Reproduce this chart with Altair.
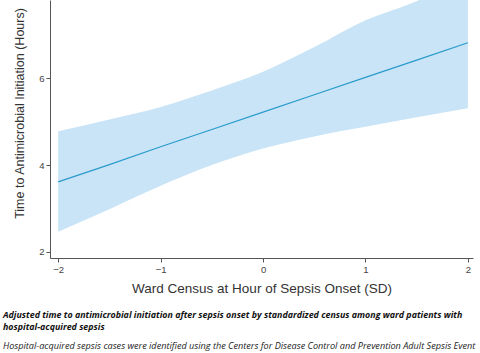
import altair as alt
import pandas as pd

# Ward census (SD) and predicted time to antimicrobial initiation (hours)
census = [-2.0, -1.5, -1.0, -0.5, 0.0, 0.5, 1.0, 1.5, 2.0]
predicted = [3.61, 4.01, 4.42, 4.82, 5.22, 5.62, 6.02, 6.42, 6.82]
lower_ci = [2.46, 2.98, 3.52, 4.00, 4.38, 4.66, 4.88, 5.10, 5.31]
upper_ci = [4.78, 5.05, 5.34, 5.72, 6.15, 6.72, 7.34, 7.78, 8.35]

x_ticks = [-2, -1, 0, 1, 2]
y_ticks = [2, 4, 6]

df = pd.DataFrame({"x": census, "y": predicted, "lo": lower_ci, "hi": upper_ci})

x_scale = alt.Scale(domain=[-2.08, 2.05], nice=False, zero=False)
y_scale = alt.Scale(domain=[1.855, 7.806], nice=False, zero=False)

x_axis = alt.Axis(
    title="Ward Census at Hour of Sepsis Onset (SD)", format="d",
    values=x_ticks, grid=False, domainColor="#555", tickColor="#555",
    tickSize=4, labelFontSize=9.5, labelColor="#444", labelFont="Liberation Sans",
    titleFont="Liberation Sans", titleFontSize=13.5, titleFontWeight="normal",
    titleColor="#333", titlePadding=8, labelPadding=2,
)
y_axis = alt.Axis(
    title="Time to Antimicrobial Initiation (Hours)", format="d",
    values=y_ticks, grid=False, domainColor="#555", tickColor="#555",
    tickSize=4, labelFontSize=9.5, labelColor="#444", labelFont="Liberation Sans",
    titleFont="Liberation Sans", titleFontSize=12.5, titleFontWeight="normal",
    titleColor="#333", titlePadding=12, titleY=113, labelPadding=2,
)

band = alt.Chart(df).mark_area(color="#c8e4f6", opacity=1, clip=True,
                               interpolate="monotone").encode(
    x=alt.X("x:Q", scale=x_scale, axis=x_axis),
    y=alt.Y("lo:Q", scale=y_scale, axis=y_axis),
    y2="hi:Q",
)
line = alt.Chart(df).mark_line(color="#2a9bcc", strokeWidth=1.2, clip=True).encode(
    x=alt.X("x:Q", scale=x_scale),
    y=alt.Y("y:Q", scale=y_scale),
)

chart = (band + line).properties(
    width=423, height=258,
    autosize=alt.AutoSizeParams(type="none"),
    padding={"left": 50, "top": 0, "right": 7, "bottom": 95},
    title=alt.TitleParams(
        text=["Adjusted time to antimicrobial initiation after sepsis onset by standardized census among ward patients with",
              "hospital-acquired sepsis"],
        subtitle="Hospital-acquired sepsis cases were identified using the Centers for Disease Control and Prevention Adult Sepsis Event",
        orient="bottom", anchor="start", frame="group", dx=-47, offset=16,
        font="Open Sans", fontSize=8.9, fontStyle="italic", fontWeight="bold", color="#111",
        lineHeight=11.5,
        subtitleFont="Open Sans", subtitleFontSize=9.15, subtitleFontStyle="italic",
        subtitleColor="#222", subtitlePadding=11,
    ),
).configure_view(stroke=None)

chart.save("out.html", embed_options={"renderer": "svg", "actions": False})
